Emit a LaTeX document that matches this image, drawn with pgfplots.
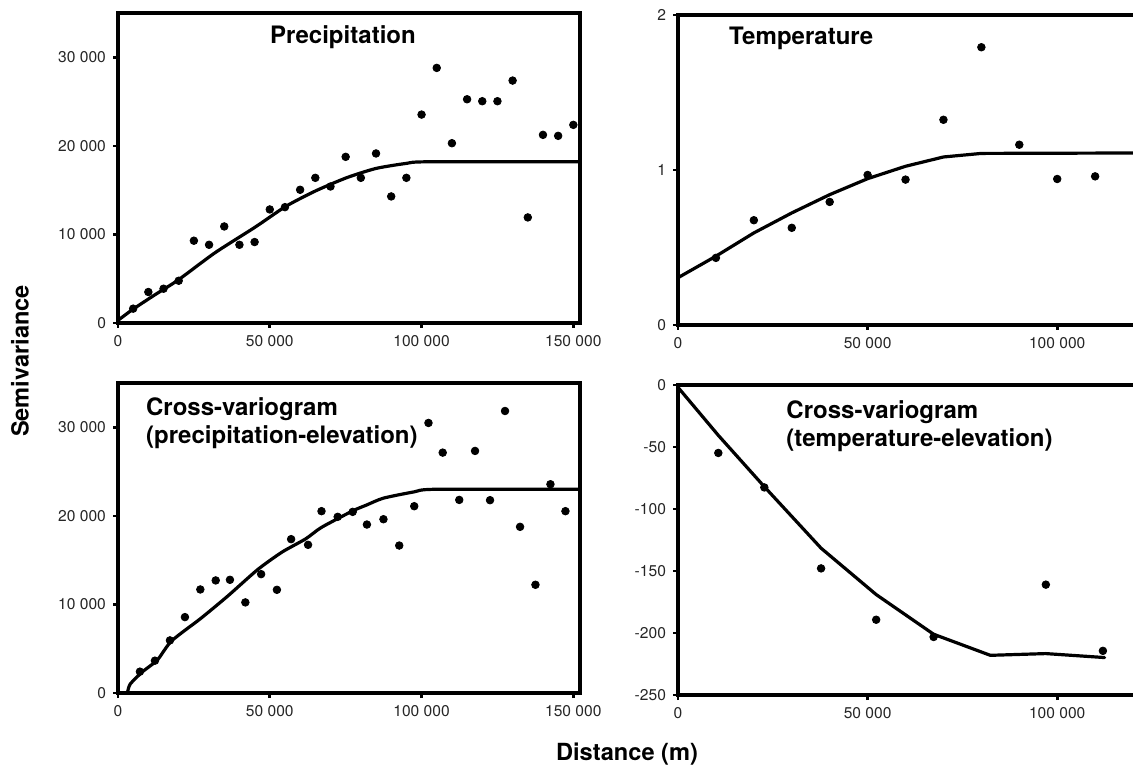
\documentclass[border=0pt]{standalone}
\usepackage{fontspec}
\setmainfont{TeX Gyre Heros}
\usepackage{pgfplots}
\pgfplotsset{compat=1.18}

\tikzset{ttl/.style={font=\fontsize{12}{14}\selectfont\bfseries, inner sep=0pt}}

\pgfplotsset{
  vario/.style={
    scale only axis,
    height=155pt,
    axis line style={line width=1.6pt},
    tick style={line width=1.3pt, black},
    tick align=outside,
    major tick length=2.5pt,
    xtick pos=left, ytick pos=left,
    scaled ticks=false,
    ticklabel style={font=\fontsize{7.8}{9}\selectfont, text=black!85},
    xmin=0,
    clip=false,
  },
  leftpanel/.style={vario, width=231pt, xmax=152200,
    xtick={0,50000,100000,150000},
    xticklabels={0,50 000,100 000,150 000},
    ymin=0, ymax=35000,
    ytick={0,10000,20000,30000},
    yticklabels={0,10 000,20 000,30 000}},
  rightpanel/.style={vario, width=237pt, xmax=125000,
    xtick={0,50000,100000},
    xticklabels={0,50 000,100 000}},
  pts/.style={only marks, mark=*, mark size=1.9pt, black},
  model/.style={line width=1.6pt, black, line join=round, line cap=round, mark=none},
}

\begin{document}
\begin{tikzpicture}

% Precipitation
\begin{axis}[leftpanel, at={(59pt,221.5pt)}, anchor=south west]
\addplot[pts] coordinates {
 (5000,1620) (10000,3500) (15000,3870) (20000,4770) (25000,9290)
 (30000,8830) (35000,10900) (40000,8830) (45000,9140) (50000,12820)
 (55000,13080) (60000,15040) (65000,16390) (70000,15410) (75000,18760)
 (80000,16390) (85000,19140) (90000,14290) (95000,16390) (100000,23530)
 (105000,28800) (110000,20300) (115000,25260) (120000,25040) (125000,25040)
 (130000,27370) (135000,11920) (140000,21240) (145000,21130) (150000,22370)
};
\addplot[model, smooth, tension=0.4] coordinates {
 (0,300) (4800,1520) (12000,3150) (19800,4850) (32000,7940) (45300,10850)
 (55300,13170) (65000,14900) (75300,16400) (85000,17450) (95000,18020)
 (102000,18200) (152200,18200)
};
\node[ttl] at (rel axis cs:0.487,0.923) {Precipitation};
\end{axis}

% Temperature
\begin{axis}[rightpanel, at={(339pt,220.5pt)}, anchor=south west,
  ymin=0, ymax=2, ytick={0,1,2}, yticklabels={0,1,2}]
\addplot[pts] coordinates {
 (10000,0.433) (20000,0.676) (30000,0.627) (40000,0.794) (50000,0.968)
 (60000,0.938) (70000,1.324) (80000,1.792) (90000,1.163) (100000,0.942)
 (110000,0.959)
};
\addplot[model] coordinates {
 (0,0.305) (10000,0.444) (20000,0.594) (30000,0.723) (40000,0.841)
 (50000,0.944) (60000,1.024) (70000,1.084) (80000,1.107) (125000,1.11)
};
\node[ttl] at (rel axis cs:0.26,0.926) {Temperature};
\end{axis}

% Cross-variogram precipitation-elevation
\begin{axis}[leftpanel, at={(59pt,36.5pt)}, anchor=south west]
\addplot[pts] coordinates {
 (7220,2410) (12170,3650) (17110,5940) (22050,8570) (27120,11690)
 (32190,12710) (36880,12780) (41950,10230) (47150,13420) (52350,11650)
 (57030,17370) (62610,16730) (67040,20530) (72370,19890) (77310,20450)
 (82000,19020) (87450,19620) (92650,16650) (97590,21090) (102280,30490)
 (106970,27140) (112420,21800) (117620,27330) (122560,21770) (127500,31840)
 (132450,18760) (137520,12220) (142460,23570) (147400,20530)
};
\addplot[model, smooth, tension=0.4] coordinates {
 (3100,0) (4000,1000) (8050,2390) (13000,3740) (17650,5880) (27300,8430)
 (36100,10930) (46000,13930) (54000,15900) (61800,17400) (67040,18700)
 (77310,20560) (82000,21240) (87450,22000) (97590,22710) (104500,23000)
 (152200,23000)
};
\node[ttl, anchor=north west, align=left] at (rel axis cs:0.06,0.955)
 {Cross-variogram\\(precipitation-elevation)};
\end{axis}

% Cross-variogram temperature-elevation
\begin{axis}[rightpanel, at={(339pt,35.5pt)}, anchor=south west,
  ymin=-250, ymax=0, ytick={-250,-200,-150,-100,-50,0},
  yticklabels={-250,-200,-150,-100,-50,0}]
\addplot[pts] coordinates {
 (10630,-54.8) (22760,-82.6) (37730,-147.9) (52260,-189.3)
 (67410,-203.2) (97000,-161.0) (112050,-214.4)
};
\addplot[model] coordinates {
 (0,-1.9) (10630,-40.6) (22760,-82) (37730,-131.6) (52260,-169)
 (67410,-201) (82370,-218) (97000,-216.6) (112500,-219.8)
};
\node[ttl, anchor=north west, align=left] at (rel axis cs:0.228,0.952)
 {Cross-variogram\\(temperature-elevation)};
\end{axis}

\node[font=\fontsize{11.8}{14}\selectfont\bfseries, rotate=90] at (10pt,202.5pt) {Semivariance};
\node[font=\fontsize{11.8}{14}\selectfont\bfseries] at (313.5pt,6pt) {Distance (m)};

\pgfresetboundingbox
\path[use as bounding box] (0,0) rectangle (566.5pt,383pt);
\end{tikzpicture}
\end{document}
